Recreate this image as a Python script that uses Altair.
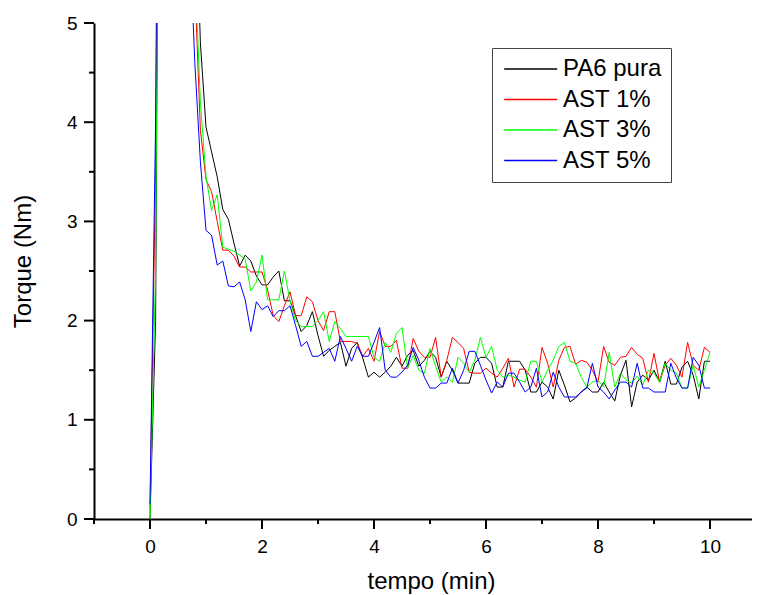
import altair as alt
import pandas as pd

time = [round(i * 0.1, 1) for i in range(101)]

pa6_pura = [0.0, 2.0, 12.0, 14.5, 14.0, 12.0, 10.0, 8.0, 6.5, 4.8,
            3.95, 3.70, 3.45, 3.12, 3.02, 2.78, 2.55, 2.66, 2.60, 2.45,
            2.36, 2.36, 2.44, 2.50, 2.20, 2.20, 2.05, 1.89, 1.95, 2.09,
            1.85, 1.64, 1.70, 1.74, 1.78, 1.54, 1.72, 1.78, 1.62, 1.43,
            1.48, 1.43, 1.48, 1.54, 1.63, 1.54, 1.65, 1.70, 1.54, 1.60,
            1.69, 1.63, 1.43, 1.59, 1.50, 1.37, 1.37, 1.37, 1.57, 1.63,
            1.63, 1.57, 1.33, 1.33, 1.59, 1.59, 1.59, 1.50, 1.28, 1.28,
            1.38, 1.33, 1.21, 1.50, 1.35, 1.18, 1.22, 1.28, 1.33, 1.28,
            1.28, 1.38, 1.28, 1.19, 1.45, 1.60, 1.13, 1.38, 1.45, 1.40,
            1.50, 1.38, 1.59, 1.36, 1.36, 1.53, 1.59, 1.45, 1.21, 1.59,
            1.59]

ast_1 = [0.1, 3.5, 12.0, 14.0, 13.5, 11.0, 8.5, 6.8, 5.4, 3.92,
         3.42, 3.30, 3.00, 2.71, 2.71, 2.65, 2.54, 2.54, 2.49, 2.49,
         2.49, 2.31, 2.05, 1.99, 2.15, 2.29, 2.05, 2.05, 2.24, 2.19,
         2.00, 1.90, 2.09, 2.09, 1.79, 1.79, 1.79, 1.77, 1.64, 1.72,
         1.59, 1.89, 1.74, 1.74, 1.80, 1.52, 1.52, 1.82, 1.69, 1.63,
         1.63, 1.83, 1.43, 1.60, 1.83, 1.78, 1.72, 1.48, 1.47, 1.47,
         1.52, 1.47, 1.43, 1.52, 1.62, 1.33, 1.51, 1.51, 1.43, 1.33,
         1.73, 1.57, 1.33, 1.60, 1.73, 1.74, 1.56, 1.60, 1.58, 1.50,
         1.38, 1.74, 1.58, 1.55, 1.63, 1.64, 1.73, 1.66, 1.62, 1.38,
         1.67, 1.38, 1.55, 1.62, 1.55, 1.43, 1.78, 1.55, 1.50, 1.73,
         1.68]

ast_3 = [0.0, 2.5, 12.0, 14.0, 13.5, 11.5, 9.0, 7.0, 5.6, 4.2,
         3.45, 3.11, 3.27, 2.74, 2.72, 2.70, 2.66, 2.62, 2.30, 2.39,
         2.66, 2.21, 2.21, 2.21, 2.50, 2.20, 2.00, 1.94, 1.94, 1.94,
         2.00, 2.09, 1.79, 1.99, 1.92, 1.84, 1.84, 1.84, 1.84, 1.84,
         1.63, 1.59, 1.78, 1.68, 1.87, 1.93, 1.52, 1.65, 1.50, 1.47,
         1.72, 1.54, 1.38, 1.43, 1.38, 1.63, 1.57, 1.48, 1.60, 1.83,
         1.63, 1.74, 1.50, 1.43, 1.45, 1.43, 1.40, 1.38, 1.59, 1.59,
         1.38, 1.50, 1.60, 1.74, 1.78, 1.59, 1.57, 1.43, 1.33, 1.38,
         1.40, 1.33, 1.68, 1.33, 1.47, 1.40, 1.37, 1.44, 1.35, 1.50,
         1.47, 1.38, 1.57, 1.50, 1.47, 1.32, 1.32, 1.55, 1.33, 1.50,
         1.68]

ast_5 = [0.15, 4.0, 12.0, 13.5, 12.5, 10.0, 7.8, 6.0, 4.6, 3.6,
         2.91, 2.86, 2.56, 2.60, 2.35, 2.34, 2.39, 2.21, 1.89, 2.19,
         2.11, 2.15, 2.04, 2.10, 2.10, 2.15, 1.95, 1.74, 1.79, 1.64,
         1.64, 1.68, 1.72, 1.59, 1.84, 1.72, 1.59, 1.74, 1.64, 1.64,
         1.78, 1.93, 1.50, 1.43, 1.43, 1.48, 1.55, 1.73, 1.60, 1.43,
         1.32, 1.32, 1.37, 1.37, 1.52, 1.37, 1.50, 1.69, 1.69, 1.55,
         1.40, 1.27, 1.38, 1.33, 1.47, 1.47, 1.38, 1.28, 1.33, 1.52,
         1.23, 1.28, 1.48, 1.33, 1.23, 1.23, 1.23, 1.28, 1.32, 1.57,
         1.33, 1.28, 1.21, 1.30, 1.38, 1.38, 1.33, 1.57, 1.32, 1.32,
         1.28, 1.28, 1.28, 1.57, 1.42, 1.32, 1.32, 1.63, 1.55, 1.32,
         1.32]

series_names = ["PA6 pura", "AST 1%", "AST 3%", "AST 5%"]
series_colors = ["#000000", "#ff0000", "#00ff00", "#0000ff"]
series_values = [pa6_pura, ast_1, ast_3, ast_5]

x_major_ticks = [0, 2, 4, 6, 8, 10]
x_minor_ticks = [-1, 1, 3, 5, 7, 9]
y_major_ticks = [0, 1, 2, 3, 4, 5]
y_minor_ticks = [0.5, 1.5, 2.5, 3.5, 4.5]

rows = []
for name, vals in zip(series_names, series_values):
    for t, v in zip(time, vals):
        rows.append({"tempo": t, "torque": v, "serie": name})
df = pd.DataFrame(rows)

FONT = "Liberation Sans"
PLOT_W = 658
PLOT_H = 496
x_scale = alt.Scale(domain=[-1, 10.75], nice=False, zero=False)
y_scale = alt.Scale(domain=[0, 5], nice=False)

lines = alt.Chart(df).mark_line(clip=True, strokeWidth=1).encode(
    x=alt.X(
        "tempo:Q",
        scale=x_scale,
        axis=alt.Axis(
            title="tempo (min)",
            values=x_major_ticks,
            format="d",
            ticks=False,
            tickSize=0,
            grid=False,
            labelFontSize=19,
            labelPadding=18,
            titleX=337,
            titleY=69,
            titleBaseline="alphabetic",
        ),
    ),
    y=alt.Y(
        "torque:Q",
        scale=y_scale,
        axis=alt.Axis(
            title="Torque (Nm)",
            values=y_major_ticks,
            format="d",
            ticks=False,
            tickSize=0,
            grid=False,
            labelFontSize=19,
            labelPadding=17,
            titleX=-64,
            titleY=238,
            titleBaseline="alphabetic",
        ),
    ),
    color=alt.Color(
        "serie:N",
        scale=alt.Scale(domain=series_names, range=series_colors),
        sort=series_names,
        legend=alt.Legend(
            title=None,
            orient="none",
            legendX=398,
            legendY=25,
            symbolType="M-1,0H5",
            symbolSize=312,
            symbolStrokeWidth=1.5,
            labelFontSize=24,
            labelFont=FONT,
            labelColor="#000000",
            labelOffset=38,
            rowPadding=6.5,
            padding=9,
            strokeColor="#444444",
            fillColor="#ffffff",
        ),
    ),
    order=alt.Order("tempo:Q"),
)


def x_ticks(values, length):
    return alt.Chart(pd.DataFrame({"v": values})).mark_rule(
        color="#000000", strokeWidth=2
    ).encode(
        x=alt.X("v:Q", scale=x_scale, axis=None),
        y=alt.value(PLOT_H),
        y2=alt.value(PLOT_H + length),
    )


def y_ticks(values, length):
    return alt.Chart(pd.DataFrame({"v": values})).mark_rule(
        color="#000000", strokeWidth=2
    ).encode(
        y=alt.Y("v:Q", scale=y_scale, axis=None),
        x=alt.value(0),
        x2=alt.value(-length),
    )


chart = alt.layer(
    lines,
    x_ticks(x_major_ticks, 10),
    x_ticks(x_minor_ticks, 5),
    y_ticks(y_major_ticks, 10),
    y_ticks(y_minor_ticks, 5),
).resolve_axis(
    x="independent", y="independent"
).properties(
    width=PLOT_W,
    height=PLOT_H,
    autosize=alt.AutoSizeParams(type="none"),
    padding={"left": 86, "top": 15, "right": 0, "bottom": 78},
).configure_view(
    stroke=None
).configure_axis(
    domainColor="#000000",
    domainWidth=2,
    labelFont=FONT,
    labelFontSize=19,
    labelColor="#000000",
    titleFont=FONT,
    titleFontSize=24,
    titleFontWeight="normal",
    titleColor="#000000",
)

chart.save("out.html", embed_options={"renderer": "svg", "actions": False})
